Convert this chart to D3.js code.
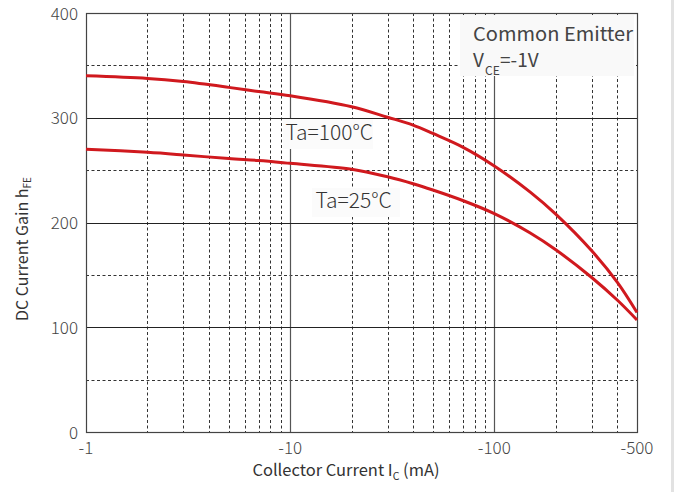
<!DOCTYPE html>
<html><head><meta charset="utf-8">
<script src="https://cdn.jsdelivr.net/npm/d3@7"></script>
<style>
html,body{margin:0;padding:0;background:#fff;}
svg{display:block;}
text{font-family:"Noto Sans CJK SC","Noto Sans",sans-serif;}
</style></head>
<body>
<svg id="c" width="674" height="492"></svg>
<script>
const currents = [1,2,3,5,7,10,20,30,40,50,70,100,150,200,300,400,500];
const gain100 = [340,337.5,334.5,329,325,321,310.5,300.5,293,285,272,254,229,208,173,143,114];
const gain25  = [270,267,264.5,261,259.2,256.5,250.8,243.6,237,231,221,208.5,190,174,147.5,126,107];
const xTicks = [1,10,100,500];
const xTickLabels = ["-1","-10","-100","-500"];
const yTicks = [0,100,200,300,400];
const xMinor = [2,3,4,5,6,7,8,9,20,30,40,50,60,70,80,90,200,300,400];
const yMinor = [50,150,250,350];

const svg = d3.select("#c");
const L=86,R=637,T=13,B=432;
const x = d3.scaleLog().domain([1,500]).range([L,R]);
const y = d3.scaleLinear().domain([0,400]).range([B,T]);

svg.append("rect").attr("x",671).attr("y",0).attr("width",3).attr("height",492).attr("fill","#e2e2e2");

const g = svg.append("g");
g.selectAll(".vx").data(xMinor).enter().append("line")
 .attr("x1",d=>Math.round(x(d))+0.5).attr("x2",d=>Math.round(x(d))+0.5).attr("y1",T).attr("y2",B)
 .attr("stroke","#333").attr("stroke-width",1).attr("stroke-dasharray","3,2.5");
g.selectAll(".hy").data(yMinor).enter().append("line")
 .attr("y1",d=>Math.round(y(d))+0.5).attr("y2",d=>Math.round(y(d))+0.5).attr("x1",L).attr("x2",R)
 .attr("stroke","#333").attr("stroke-width",1).attr("stroke-dasharray","3,2.5");
g.selectAll(".mx").data([10,100]).enter().append("line")
 .attr("x1",d=>Math.round(x(d))+0.5).attr("x2",d=>Math.round(x(d))+0.5).attr("y1",T).attr("y2",B)
 .attr("stroke","#555").attr("stroke-width",1.2);
g.selectAll(".my").data([100,200,300]).enter().append("line")
 .attr("y1",d=>Math.round(y(d))+0.5).attr("y2",d=>Math.round(y(d))+0.5).attr("x1",L).attr("x2",R)
 .attr("stroke","#222").attr("stroke-width",1.2);

// annotation boxes
svg.append("rect").attr("x",460).attr("y",15).attr("width",174).attr("height",61).attr("fill","#f9f9f9");
svg.append("rect").attr("x",283).attr("y",119).attr("width",90).attr("height",30).attr("fill","#fbfbfb");
svg.append("rect").attr("x",312).attr("y",188).attr("width",88).attr("height",29).attr("fill","#fbfbfb");

// frame
svg.append("rect").attr("x",L+0.5).attr("y",T+0.5).attr("width",R-L).attr("height",B-T)
 .attr("fill","none").attr("stroke","#444").attr("stroke-width",1.2);

// curves
const line = d3.line().x(d=>x(d[0])).y(d=>y(d[1])).curve(d3.curveCatmullRom.alpha(0.5));
[gain100,gain25].forEach(s=>{
  svg.append("path").datum(currents.map((c,i)=>[c,s[i]])).attr("d",line)
   .attr("fill","none").attr("stroke","#d0191e").attr("stroke-width",3).attr("stroke-linejoin","round");
});

// ticks
const tickCol="#444";
svg.selectAll(".xt").data(xTicks).enter().append("text")
 .attr("x",d=>x(d)).attr("y",453.5).attr("text-anchor","middle")
 .attr("font-size",17).attr("fill",tickCol).attr("font-weight",300)
 .text((d,i)=>xTickLabels[i]);
svg.selectAll(".yt").data(yTicks).enter().append("text")
 .attr("x",78).attr("y",d=>y(d)+6.5).attr("text-anchor","end")
 .attr("font-size",17).attr("fill",tickCol).attr("font-weight",300)
 .text(d=>d);

// axis titles
const xt = svg.append("text").attr("x",346).attr("y",476).attr("text-anchor","middle")
 .attr("font-size",16.5).attr("fill","#333");
xt.append("tspan").text("Collector Current I");
xt.append("tspan").attr("font-size",10.5).attr("dy",4).text("C");
xt.append("tspan").attr("dy",-4).text(" (mA)");

const yt = svg.append("text").attr("transform","translate(27.5,249) rotate(-90)").attr("text-anchor","middle")
 .attr("font-size",16).attr("fill","#333");
yt.append("tspan").text("DC Current Gain h");
yt.append("tspan").attr("font-size",10).attr("dy",3.5).text("FE");

// annotations
const af = "'Liberation Sans', Arial, sans-serif";
svg.append("text").attr("x",473).attr("y",40.5).attr("font-size",19).attr("font-family",af)
 .attr("fill","#444")
 .attr("textLength",160).attr("lengthAdjust","spacingAndGlyphs").text("Common Emitter");
const v = svg.append("text").attr("y",66.5).attr("font-size",19).attr("font-family",af)
 .attr("fill","#444");
v.append("tspan").attr("x",473).text("V");
v.append("tspan").attr("x",485).attr("font-size",12).attr("dy",8).text("CE");
v.append("tspan").attr("x",500).attr("dy",-8).text("=-1V");
svg.append("text").attr("x",285.5).attr("y",140).attr("font-size",21).attr("fill","#333").attr("font-weight",300).text("Ta=100°C");
svg.append("text").attr("x",315.5).attr("y",208.3).attr("font-size",21).attr("fill","#333").attr("font-weight",300).text("Ta=25°C");
</script>
</body></html>
